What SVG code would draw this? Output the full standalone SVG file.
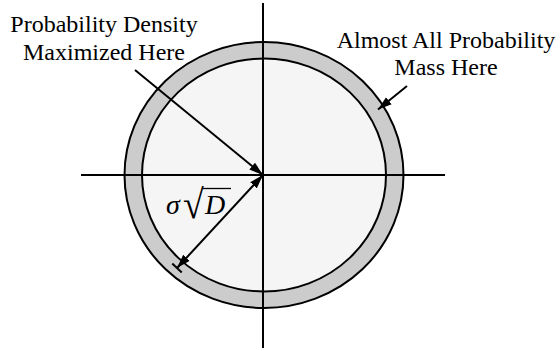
<svg xmlns="http://www.w3.org/2000/svg" width="560" height="351" viewBox="0 0 560 351">
<style>
.lbl{font-family:"Liberation Serif","Times New Roman",serif;font-size:24px;fill:#000;text-anchor:middle}
.math{font-family:"Liberation Serif","Times New Roman",serif;font-size:28px;fill:#000}
.ax{stroke:#000;stroke-width:2;fill:none}
.con{stroke:#000;stroke-width:2;fill:none}
.ring{fill:#cccccc;stroke:#000;stroke-width:2}
.core{fill:#f5f5f5;stroke:#000;stroke-width:2}
</style>
<defs>
<marker id="ah" markerWidth="15" markerHeight="10" refX="14" refY="5" orient="auto-start-reverse" markerUnits="userSpaceOnUse">
<path d="M0,0.5 L14,5 L0,9.5 Z" fill="#000"/>
</marker>
<marker id="barh" markerWidth="16" markerHeight="14" refX="14" refY="7" orient="auto-start-reverse" markerUnits="userSpaceOnUse">
<path d="M0,2.5 L14,7 L0,11.5 Z" fill="#000"/>
<line x1="14" y1="0.5" x2="14" y2="13.5" stroke="#000" stroke-width="2"/>
</marker>
</defs>
<g id="shell">
<ellipse class="ring" cx="264" cy="175" rx="139.5" ry="133"/>
<ellipse class="core" cx="264" cy="175" rx="122" ry="116.5"/>
</g>
<g id="axes">
<line class="ax" x1="81" y1="175" x2="445" y2="175"/>
<line class="ax" x1="263" y1="3" x2="263" y2="348"/>
</g>
<g id="label-density">
<text class="lbl" x="104" y="32">Probability Density</text>
<text class="lbl" x="104" y="60">Maximized Here</text>
</g>
<g id="label-mass">
<text class="lbl" x="446" y="48">Almost All Probability</text>
<text class="lbl" x="446" y="75">Mass Here</text>
</g>
<g id="label-radius">
<text class="math" x="166" y="214" font-style="italic">σ</text>
<text class="math" transform="translate(183,218) scale(1.35,1.45)" x="0" y="0" font-size="27">√</text>
<text class="math" x="205" y="214" font-style="italic">D</text>
<line x1="202" y1="188.5" x2="231" y2="188.5" stroke="#000" stroke-width="1.3"/>
</g>
<g id="connectors">
<line class="con" x1="135" y1="70" x2="263" y2="175" marker-end="url(#ah)"/>
<line class="con" x1="407" y1="86" x2="378" y2="109.5" marker-end="url(#ah)"/>
<line class="con" x1="177" y1="268" x2="263" y2="175" marker-start="url(#barh)" marker-end="url(#ah)"/>
</g>
</svg>
